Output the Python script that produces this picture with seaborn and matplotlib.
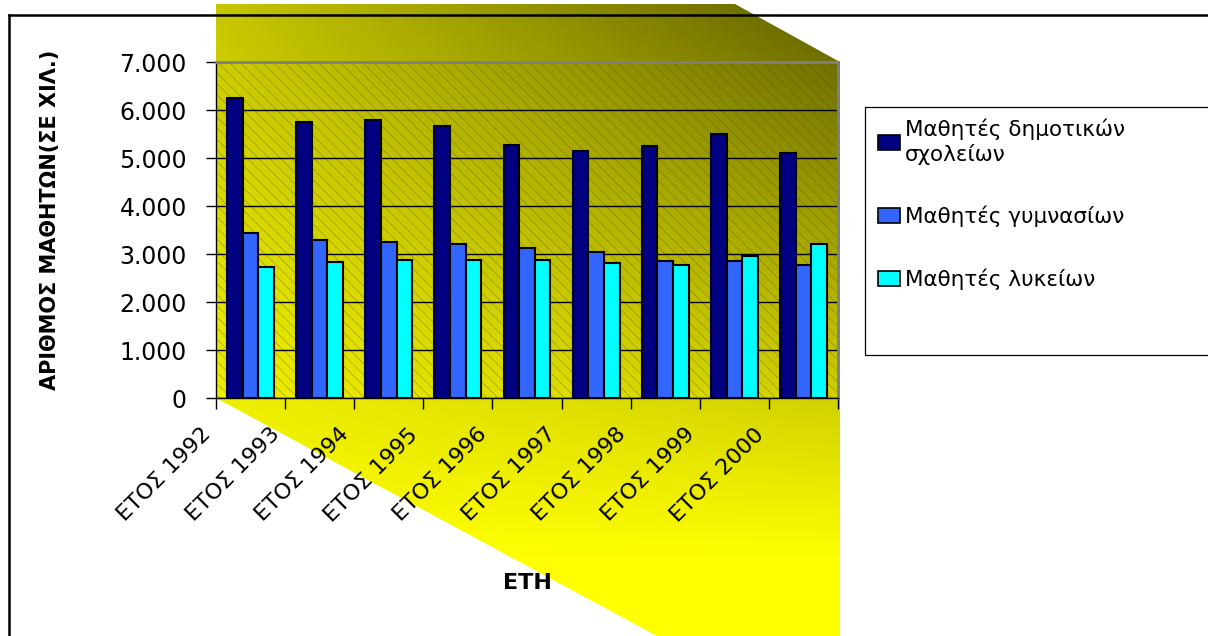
import numpy as np
import pandas as pd
import seaborn as sns
import matplotlib
matplotlib.use('Agg')
import matplotlib.pyplot as plt
from matplotlib.patches import Polygon, Rectangle, Patch
from matplotlib.ticker import FixedLocator, FuncFormatter
from matplotlib.transforms import ScaledTranslation

# data (thousands of pupils)
years = ['ΕΤΟΣ 1992', 'ΕΤΟΣ 1993', 'ΕΤΟΣ 1994', 'ΕΤΟΣ 1995', 'ΕΤΟΣ 1996',
         'ΕΤΟΣ 1997', 'ΕΤΟΣ 1998', 'ΕΤΟΣ 1999', 'ΕΤΟΣ 2000']
dimotika = [6260, 5760, 5800, 5660, 5280, 5150, 5240, 5510, 5100]
gymnasia = [3430, 3290, 3240, 3200, 3130, 3050, 2860, 2860, 2770]
lykeia = [2730, 2830, 2870, 2870, 2870, 2820, 2770, 2950, 3200]
series = ['Μαθητές δημοτικών\nσχολείων', 'Μαθητές γυμνασίων', 'Μαθητές λυκείων']
colors = ['#000080', '#3366ff', '#00ffff']

df = pd.DataFrame({
    'year': years * 3,
    'value': dimotika + gymnasia + lykeia,
    'series': np.repeat(series, len(years)),
})

sns.set_style('white')
plt.rcParams['font.family'] = ['DejaVu Sans']
plt.rcParams['text.color'] = 'black'
plt.rcParams['axes.labelcolor'] = 'black'
plt.rcParams['xtick.color'] = 'black'
plt.rcParams['ytick.color'] = 'black'
plt.rcParams['hatch.linewidth'] = 0.6
plt.rcParams['hatch.color'] = (0.3, 0.3, 0.0, 0.35)

W, H = 1208, 636
fig = plt.figure(figsize=(W / 100, H / 100), dpi=100)

# background layer in pixel coordinates (yellow "3d" wall + frame)
bg = fig.add_axes([0, 0, 1, 1], zorder=0)
bg.set_xlim(0, W)
bg.set_ylim(H, 0)
bg.axis('off')
xx, yy = np.meshgrid(np.arange(W), np.arange(H))
dark = (0.22 + 0.00065 * (xx - 216)) * np.clip((560 - yy) / 556, 0, 1)
f = np.clip(1 - dark, 0, 1)
img = np.dstack([f, f, np.zeros_like(f)])
im = bg.imshow(img, extent=(0, W, H, 0), aspect='auto', interpolation='bilinear')
wall = Polygon([(216, 4), (735, 4), (840, 62), (840, 636), (657, 636), (216, 398)],
               closed=True, facecolor='none', edgecolor='none', transform=bg.transData)
bg.add_patch(wall)
im.set_clip_path(wall)
bg.plot([9, 9], [H, 15], color='black', lw=1.8, solid_capstyle='projecting')
bg.plot([9, W], [15, 15], color='black', lw=1.8, solid_capstyle='projecting')
bg.add_patch(Rectangle((865, 107), 360, 248, facecolor='white', edgecolor='black', lw=0.9))

# main plot
ax = fig.add_axes([216 / W, 1 - 398 / H, 622 / W, 336 / H], zorder=1)
ax.patch.set_alpha(0)
ax.add_patch(Rectangle((0, 0), 1, 1, transform=ax.transAxes, facecolor='none',
                       edgecolor=(0.3, 0.3, 0.0, 0.35), lw=0, hatch='\\\\\\', zorder=0))

sns.barplot(data=df, x='year', y='value', hue='series', palette=colors, saturation=1,
            width=0.68, edgecolor='black', linewidth=1.5, legend=False, ax=ax, zorder=2)

ax.set_xlim(-0.5, len(years) - 0.5)
ax.set_ylim(0, 7000)
ax.set_yticks(range(0, 7001, 1000))
ax.yaxis.set_major_formatter(FuncFormatter(lambda v, p: f'{int(v):,}'.replace(',', '.')))
ax.yaxis.grid(True, color='black', lw=1)
ax.set_axisbelow(True)

for s in ['left', 'bottom']:
    ax.spines[s].set_color('black')
    ax.spines[s].set_linewidth(1)
for s in ['top', 'right']:
    ax.spines[s].set_color('#808080')
    ax.spines[s].set_linewidth(2)

ax.tick_params(axis='y', direction='out', length=7, width=1, color='black',
               labelsize=17, pad=14, left=True)
ax.xaxis.set_minor_locator(FixedLocator(np.arange(-0.5, len(years), 1.0)))
ax.tick_params(axis='x', which='minor', direction='out', length=8, width=1,
               color='black', bottom=True)
ax.tick_params(axis='x', which='major', length=0, labelsize=16, pad=24)
ax.set_xticks(range(len(years)))
ax.set_xticklabels(years, rotation=45, ha='right', va='center', rotation_mode='anchor')
shift = ScaledTranslation(-0.43, 0, fig.dpi_scale_trans)
for lab in ax.get_xticklabels():
    lab.set_transform(lab.get_transform() + shift)

ax.set_ylabel('ΑΡΙΘΜΟΣ ΜΑΘΗΤΩΝ(ΣΕ ΧΙΛ.)', fontsize=15, fontweight='bold')
ax.yaxis.set_label_coords((60 - 216) / 622, (398 - 220) / 336)
ax.set_xlabel('ΕΤΗ', fontsize=16, fontweight='bold')
ax.xaxis.set_label_coords(0.5, (398 - 573) / 336)

handles = [Patch(facecolor=c, edgecolor='black', lw=1.2) for c in colors]
fig.legend(handles, series, loc='upper left', bbox_to_anchor=(878 / W, 1 - 119 / H),
           frameon=False, fontsize=15.5, handlelength=1.0, handleheight=0.7,
           handletextpad=0.25, labelspacing=1.9, borderpad=0, borderaxespad=0)

fig.savefig('out.png', dpi=100)
